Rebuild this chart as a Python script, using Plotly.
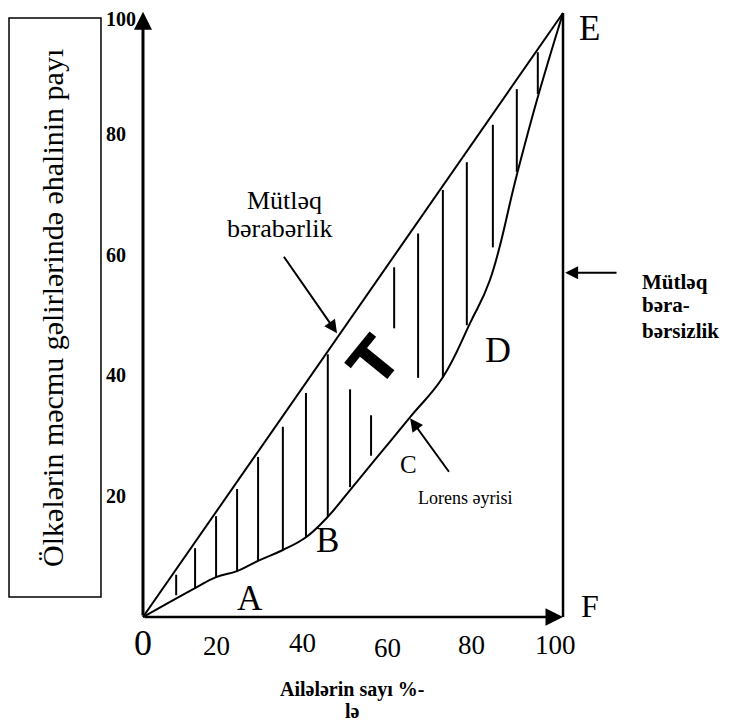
import plotly.graph_objects as go

# Lorenz curve (share of families %, share of income %)
lorenz_x = [0, 12.4, 17.4, 22.4, 27.4, 33.3, 38.8, 44.0, 49.3, 55.2, 63.6, 71.4, 77.9, 82.6, 89.0, 93.8, 100]
lorenz_y = [0, 4.8, 6.6, 7.6, 9.3, 11.1, 13.2, 16.6, 21.0, 26.0, 33.1, 39.7, 48.7, 55.8, 73.2, 85.6, 100]

# line of absolute equality
equal_x = [0, 100]
equal_y = [0, 100]

# vertical hatching between the two lines
hatch_x = [7.9, 12.4, 17.4, 22.4, 27.4, 33.3, 38.8, 44.0, 49.3, 54.3, 59.8, 65.5, 71.4, 77.1, 83.3, 89.0, 94.0]
hatch_lo = [3.6, 4.8, 6.6, 7.6, 9.3, 11.1, 13.2, 16.6, 21.5, 26.7, 47.8, 39.6, 39.6, 48.3, 61.2, 73.7, 86.6]
hatch_hi = [7.0, 11.4, 16.7, 21.2, 26.5, 31.5, 37.1, 43.5, 37.7, 33.4, 57.9, 63.5, 70.7, 75.3, 81.5, 87.4, 93.5]

x_ticks = [20, 40, 60, 80, 100]
y_ticks = [20, 40, 60, 80, 100]

SERIF = "Liberation Serif"

fig = go.Figure()

# equality diagonal
fig.add_trace(go.Scatter(x=equal_x, y=equal_y, mode="lines",
                         line=dict(color="black", width=2), hoverinfo="skip"))

# Lorenz curve
fig.add_trace(go.Scatter(x=lorenz_x, y=lorenz_y, mode="lines",
                         line=dict(color="black", width=2, shape="spline", smoothing=1.2),
                         hoverinfo="skip"))

# hatching
hx, hy = [], []
for x, lo, hi in zip(hatch_x, hatch_lo, hatch_hi):
    hx += [x, x, None]
    hy += [lo, hi, None]
fig.add_trace(go.Scatter(x=hx, y=hy, mode="lines",
                         line=dict(color="black", width=2), hoverinfo="skip"))

# right border E-F
fig.add_shape(type="line", x0=100, y0=0, x1=100, y1=100,
              line=dict(color="black", width=2.5))

# y label box
fig.add_shape(type="rect", x0=-31.9, y0=3.31, x1=-10.0, y1=99.17,
              line=dict(color="black", width=1.5))

ann = []


def arrow(x, y, ax, ay, width=2, size=1.2, head=2):
    ann.append(dict(x=x, y=y, ax=ax, ay=ay, xref="x", yref="y", axref="x", ayref="y",
                    text="", showarrow=True, arrowhead=head, arrowsize=size,
                    arrowwidth=width, arrowcolor="black"))


def label(x, y, text, size, bold=False, angle=0, anchor="center", family=SERIF):
    if bold:
        text = "<b>" + text + "</b>"
    ann.append(dict(x=x, y=y, xref="x", yref="y", text=text, showarrow=False,
                    textangle=angle, xanchor=anchor, yanchor="middle",
                    font=dict(family=family, size=size, color="black")))


# axes with arrows
arrow(0, 100.2, 0, 0, width=3, size=1.2)
arrow(100, 0, 0, 0, width=2.5, size=1.4)

# pointer arrows
arrow(46.2, 47.0, 33.3, 59.9, width=2, size=1.3)
arrow(63.6, 32.9, 73.1, 23.8, width=2, size=1.3)
arrow(100.5, 57.0, 113.1, 57.0, width=2, size=1.3)

# tick labels
label(0, -4.3, "0", 36)
tick_pos = [(17.4, -4.8), (37.9, -4.3), (58.1, -5.1), (78.3, -4.6), (98.3, -4.6)]
for v, (tx, ty) in zip(x_ticks, tick_pos):
    label(tx, ty, str(v), 27)
for v in y_ticks:
    label(-9.3, v - (1.0 if v == 100 else 0), str(v), 20, bold=True, anchor="left")

# letters
label(25.5, 3.0, "A", 35)
label(44.0, 12.7, "B", 35)
label(63.1, 25.2, "C", 25)
label(84.5, 44.2, "D", 36)
label(106.4, 97.4, "E", 35)
label(106.4, 1.8, "F", 32)

# descriptions (one annotation per line to keep the tight line spacing)
label(33.7, 69.0, "Mütləq", 26)
label(32.4, 64.4, "bərabərlik", 26)
label(118.3, 55.5, "Mütləq", 21, bold=True, anchor="left")
label(118.3, 51.6, "bəra-", 21, bold=True, anchor="left")
label(118.3, 47.3, "bərsizlik", 21, bold=True, anchor="left")
label(76.7, 19.7, "Lorens əyrisi", 18)
label(55.0, 42.3, "T", 60, bold=True, angle=-51, family="DejaVu Sans")
label(49.8, -12.0, "Ailələrin sayı %-", 20, bold=True)
label(49.8, -15.6, "lə", 20, bold=True)
label(-21.4, 51.2, "Ölkələrin məcmu gəlirlərində əhalinin payı", 30, angle=-90)

# page body has an 8px margin, so the figure is a bit smaller than the window
fig.update_layout(
    width=721, height=714,
    margin=dict(l=0, r=0, t=0, b=0),
    paper_bgcolor="white", plot_bgcolor="white",
    showlegend=False,
    annotations=ann,
    xaxis=dict(range=[-32.14, 139.52], visible=False, fixedrange=True),
    yaxis=dict(range=[-17.38, 100.83], visible=False, fixedrange=True),
)

fig.write_html("out.html")
